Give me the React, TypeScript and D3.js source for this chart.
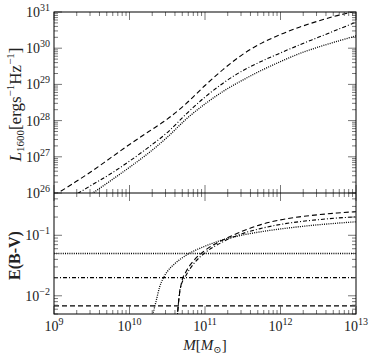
import * as d3 from 'd3'
import { useRef, useEffect } from 'react'

const W = 374, H = 356
const M = { left: 54, right: 356, top: 12, mid: 193, bottom: 314 }

// upper panel: log10 M and log10 L1600 for the three models
const massLog = [9, 9.25, 9.5, 9.75, 10, 10.25, 10.5, 10.75, 11, 11.25, 11.5, 11.75, 12, 12.25, 12.5, 12.75, 13]
const lumDashed = [25.93, 26.26, 26.6, 26.97, 27.34, 27.69, 28.04, 28.47, 28.97, 29.43, 29.83, 30.14, 30.38, 30.58, 30.75, 30.9, 31.02]
const lumDashDot = [25.62, 25.91, 26.22, 26.53, 26.88, 27.26, 27.67, 28.18, 28.65, 29.05, 29.38, 29.64, 29.87, 30.09, 30.3, 30.51, 30.72]
const lumDotted = [25.25, 25.62, 25.98, 26.34, 26.71, 27.1, 27.54, 28.04, 28.46, 28.82, 29.12, 29.39, 29.63, 29.85, 30.03, 30.19, 30.34]

// lower panel: log10 M and log10 E(B-V)
const ebvDashedMass = [10.63, 10.65, 10.69, 10.75, 10.85, 11, 11.25, 11.5, 11.75, 12, 12.25, 12.5, 12.75, 13]
const ebvDashed = [-2.4, -2.1, -1.78, -1.6, -1.42, -1.25, -1.07, -0.93, -0.82, -0.745, -0.695, -0.66, -0.632, -0.61]
const ebvDashDotMass = [10.63, 10.65, 10.67, 10.75, 10.85, 11, 11.25, 11.5, 11.75, 12, 12.25, 12.5, 12.75, 13]
const ebvDashDot = [-2.4, -2.1, -1.89, -1.66, -1.47, -1.29, -1.1, -0.97, -0.885, -0.82, -0.775, -0.742, -0.715, -0.695]
const ebvDottedMass = [10.3, 10.35, 10.4, 10.45, 10.5, 10.6, 10.75, 11, 11.25, 11.5, 11.75, 12, 12.25, 12.5, 12.75, 13]
const ebvDotted = [-2.35, -2.1, -1.85, -1.7, -1.6, -1.47, -1.33, -1.18, -1.07, -0.995, -0.94, -0.895, -0.858, -0.826, -0.8, -0.777]

// constant E(B-V) reference levels
const ebvFlat = [0.0068, 0.02, 0.05]

const xTickExp = [9, 10, 11, 12, 13]
const upTickExp = [26, 27, 28, 29, 30, 31]
const lowTickExp = [-2, -1]

const STYLES = ['5,3', '4,2,1,2', '1,1.2']
const WIDTHS = [1.1, 1.1, 1.3]
const FONT = '"Liberation Serif", "DejaVu Serif", serif'

function minorTicks(lo: number, hi: number) {
  const out: { v: number, major: boolean }[] = []
  for (let d = Math.floor(Math.log10(lo)); d <= Math.ceil(Math.log10(hi)); d++) {
    for (let k = 1; k <= 9; k++) {
      const v = k * Math.pow(10, d)
      if (v >= lo * 0.999 && v <= hi * 1.001) out.push({ v, major: k === 1 })
    }
  }
  return out
}

export default function App() {
  const svgRef = useRef<SVGSVGElement>(null)

  useEffect(() => {
    const svg = d3.select(svgRef.current)
    svg.selectAll('*').remove()

    const x = d3.scaleLog().domain([1e9, 1e13]).range([M.left, M.right])
    const yUp = d3.scaleLog().domain([1e26, 1e31]).range([M.mid, M.top])
    const yLow = d3.scaleLog().domain([0.005, 0.5]).range([M.bottom, M.mid])

    const defs = svg.append('defs')
    defs.append('clipPath').attr('id', 'clipUp').append('rect')
      .attr('x', M.left).attr('y', M.top).attr('width', M.right - M.left).attr('height', M.mid - M.top)
    defs.append('clipPath').attr('id', 'clipLow').append('rect')
      .attr('x', M.left).attr('y', M.mid).attr('width', M.right - M.left).attr('height', M.bottom - M.mid)

    // upper curves
    const gUp = svg.append('g').attr('clip-path', 'url(#clipUp)')
    const lineUp = d3.line<[number, number]>()
      .x(d => x(Math.pow(10, d[0]))).y(d => yUp(Math.pow(10, d[1])))
      .curve(d3.curveCatmullRom.alpha(0.5))
    ;[lumDashed, lumDashDot, lumDotted].forEach((ser, i) => {
      gUp.append('path')
        .attr('d', lineUp(massLog.map((m, j) => [m, ser[j]] as [number, number])))
        .attr('fill', 'none').attr('stroke', '#000').attr('stroke-width', WIDTHS[i])
        .attr('stroke-dasharray', STYLES[i])
    })

    // lower curves
    const gLow = svg.append('g').attr('clip-path', 'url(#clipLow)')
    const lineLow = d3.line<[number, number]>()
      .x(d => x(Math.pow(10, d[0]))).y(d => yLow(Math.pow(10, d[1])))
      .curve(d3.curveMonotoneX)
    const lowSeries = [[ebvDashedMass, ebvDashed], [ebvDashDotMass, ebvDashDot], [ebvDottedMass, ebvDotted]]
    lowSeries.forEach(([ms, es], i) => {
      gLow.append('path')
        .attr('d', lineLow(ms.map((m, j) => [m, es[j]] as [number, number])))
        .attr('fill', 'none').attr('stroke', '#000').attr('stroke-width', WIDTHS[i])
        .attr('stroke-dasharray', STYLES[i])
    })
    ebvFlat.forEach((v, i) => {
      gLow.append('line')
        .attr('x1', M.left).attr('x2', M.right).attr('y1', yLow(v)).attr('y2', yLow(v))
        .attr('stroke', '#000').attr('stroke-width', WIDTHS[i]).attr('stroke-dasharray', STYLES[i])
    })

    // ticks
    const tk = svg.append('g').attr('stroke', '#555').attr('stroke-width', 0.8)
    const xt = minorTicks(1e9, 1e13)
    xt.forEach(t => {
      const px = x(t.v), len = t.major ? 8 : 4
      tk.append('line').attr('x1', px).attr('x2', px).attr('y1', M.top).attr('y2', M.top + len)
      tk.append('line').attr('x1', px).attr('x2', px).attr('y1', M.mid).attr('y2', M.mid - len)
      tk.append('line').attr('x1', px).attr('x2', px).attr('y1', M.mid).attr('y2', M.mid + len)
      tk.append('line').attr('x1', px).attr('x2', px).attr('y1', M.bottom).attr('y2', M.bottom - len)
    })
    const yTicks = (scale: d3.ScaleLogarithmic<number, number>, lo: number, hi: number) => {
      minorTicks(lo, hi).forEach(t => {
        const py = scale(t.v), len = t.major ? 8 : 4
        tk.append('line').attr('x1', M.left).attr('x2', M.left + len).attr('y1', py).attr('y2', py)
        tk.append('line').attr('x1', M.right).attr('x2', M.right - len).attr('y1', py).attr('y2', py)
      })
    }
    yTicks(yUp, 1e26, 1e31)
    yTicks(yLow, 0.005, 0.5)

    // frames
    svg.append('rect').attr('x', M.left).attr('y', M.top).attr('width', M.right - M.left)
      .attr('height', M.bottom - M.top).attr('fill', 'none').attr('stroke', '#000').attr('stroke-width', 1)
    svg.append('line').attr('x1', M.left).attr('x2', M.right).attr('y1', M.mid).attr('y2', M.mid)
      .attr('stroke', '#000').attr('stroke-width', 1)

    // tick labels
    const lab = svg.append('g').attr('font-family', FONT).attr('fill', '#222')
    const powLabel = (px: number, py: number, exp: string, anchor: string) => {
      const t = lab.append('text').attr('x', px).attr('y', py).attr('text-anchor', anchor).attr('font-size', 14)
      t.append('tspan').text('10')
      t.append('tspan').attr('dy', -6).attr('font-size', 10).text(exp)
    }
    upTickExp.forEach(e => powLabel(M.left - 4, yUp(Math.pow(10, e)) + 5, String(e), 'end'))
    lowTickExp.forEach(e => powLabel(M.left - 4, yLow(Math.pow(10, e)) + 5, '\u2212' + Math.abs(e), 'end'))
    xTickExp.forEach(e => powLabel(x(Math.pow(10, e)), M.bottom + 17, String(e), 'middle'))

    // axis titles
    const cxU = 21, cyU = (M.top + M.mid) / 2 + 2
    const tU = lab.append('text').attr('transform', `translate(${cxU},${cyU}) rotate(-90)`)
      .attr('text-anchor', 'middle').attr('font-size', 17)
    tU.append('tspan').attr('font-style', 'italic').text('L')
    tU.append('tspan').attr('font-size', 11).attr('dy', 3).text('1600')
    tU.append('tspan').attr('dy', -3).text('[ergs')
    tU.append('tspan').attr('font-size', 11).attr('dy', -7).text('\u22121')
    tU.append('tspan').attr('dy', 7).text('Hz')
    tU.append('tspan').attr('font-size', 11).attr('dy', -7).text('\u22121')
    tU.append('tspan').attr('dy', 7).text(']')

    lab.append('text').attr('transform', `translate(20,${(M.mid + M.bottom) / 2 + 2}) rotate(-90)`)
      .attr('text-anchor', 'middle').attr('font-size', 16).attr('font-weight', 'bold')
      .text('E(B-V)')

    const tX = lab.append('text').attr('x', (M.left + M.right) / 2).attr('y', M.bottom + 36)
      .attr('text-anchor', 'middle').attr('font-size', 15)
    tX.append('tspan').attr('font-style', 'italic').text('M')
    tX.append('tspan').text('[')
    tX.append('tspan').attr('font-style', 'italic').text('M')
    tX.append('tspan').attr('font-size', 10).attr('dy', 3).text('\u2299')
    tX.append('tspan').attr('dy', -3).text(']')
  }, [])

  return (
    <svg ref={svgRef} width={W} height={H} viewBox={`0 0 ${W} ${H}`}
      style={{ position: 'absolute', left: 0, top: 0, background: '#fff' }} />
  )
}
